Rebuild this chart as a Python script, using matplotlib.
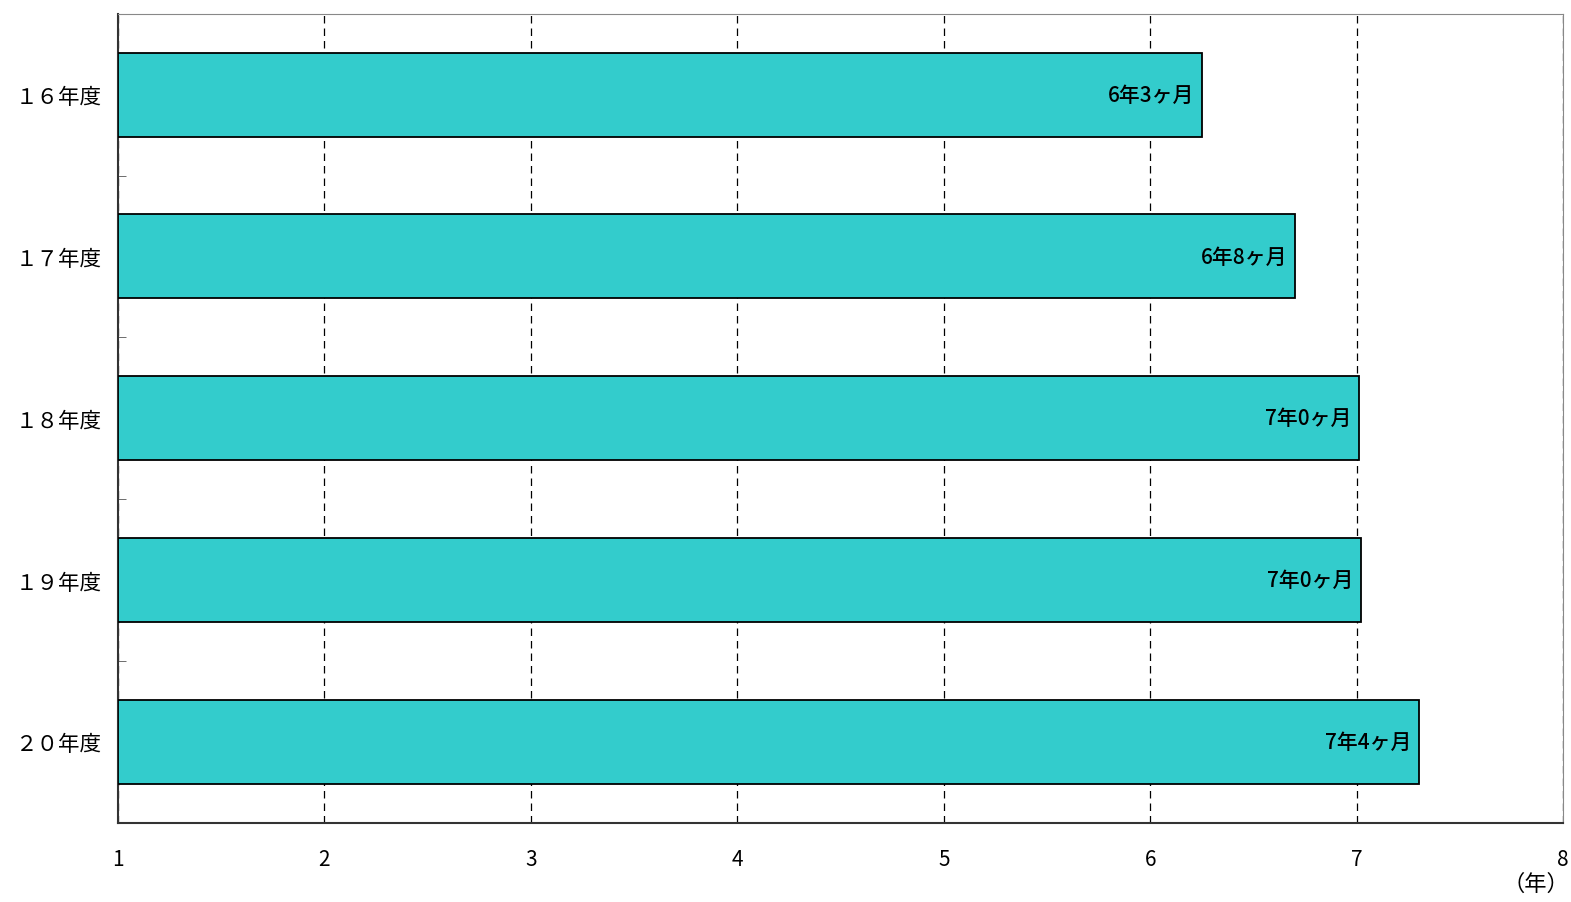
import matplotlib.pyplot as plt
import numpy as np

plt.rcParams['font.family'] = ['Noto Sans CJK JP', 'DejaVu Sans']

# data
categories = ['１６年度', '１７年度', '１８年度', '１９年度', '２０年度']
values = [6.25, 6.70, 7.01, 7.02, 7.30]
labels = ['6年3ヶ月', '6年8ヶ月', '7年0ヶ月', '7年0ヶ月', '7年4ヶ月']
xticks = [1, 2, 3, 4, 5, 6, 7, 8]

fig = plt.figure(figsize=(15.71, 9.03), dpi=100)
ax = fig.add_axes([0.0751, 0.0878, 0.9199, 0.8959])

y = np.arange(len(categories))
ax.barh(y, np.array(values) - 1, left=1, height=0.52, color='#33CCCC',
        edgecolor='black', linewidth=1.3, zorder=3)

for yi, v, lab in zip(y, values, labels):
    ax.text(v - 0.035, yi, lab, ha='right', va='center', fontsize=15,
            fontweight='medium', zorder=4)

ax.set_xlim(1, 8)
ax.set_ylim(len(categories) - 0.5, -0.5)
ax.set_xticks(xticks)
ax.set_xticklabels([str(t) for t in xticks], fontsize=15)
ax.tick_params(axis='x', length=0, pad=18)
ax.set_yticks(y)
ax.set_yticklabels(categories, fontsize=15.5)
ax.tick_params(axis='y', which='major', length=0, pad=12)
ax.set_yticks(np.arange(0.5, len(categories) - 0.5, 1), minor=True)
ax.tick_params(axis='y', which='minor', direction='in', length=6, color='#555555')

ax.grid(axis='x', linestyle=(0, (6, 4)), color='black', linewidth=0.9, zorder=1)
ax.spines['left'].set_color('#333333')
ax.spines['bottom'].set_color('#333333')
ax.spines['left'].set_linewidth(1.5)
ax.spines['bottom'].set_linewidth(1.5)
ax.spines['top'].set_color('#888888')
ax.spines['right'].set_color('#888888')

fig.text(0.9775, 0.021, '（年）', ha='center', va='center', fontsize=16)

fig.savefig('out.png', dpi=100)
